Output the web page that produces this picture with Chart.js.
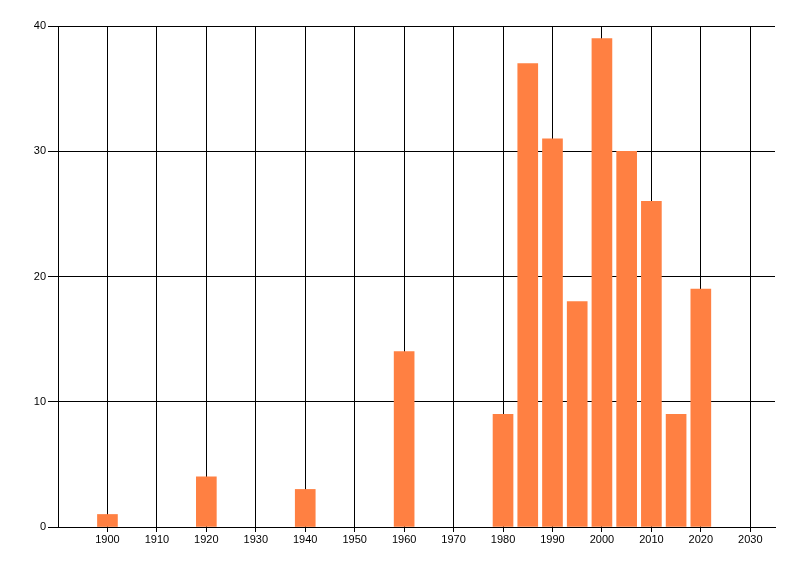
<!DOCTYPE html>
<html>
<head>
<meta charset="utf-8">
<script src="https://cdn.jsdelivr.net/npm/chart.js@4"></script>
<style>
  html, body { margin: 0; padding: 0; background: #fff; }
  #wrap { width: 800px; height: 576px; }
</style>
</head>
<body>
<div id="wrap"><canvas id="barChart" width="800" height="576"></canvas></div>
<script>
// values
const years = [1900, 1920, 1940, 1960, 1980, 1985, 1990, 1995, 2000, 2005, 2010, 2015, 2020];
const counts = [1, 4, 3, 14, 9, 37, 31, 18, 39, 30, 26, 9, 19];
const yearTicks = [1900, 1910, 1920, 1930, 1940, 1950, 1960, 1970, 1980, 1990, 2000, 2010, 2020, 2030];
const countTicks = [0, 10, 20, 30, 40];

const points = years.map((yr, i) => ({ x: yr, y: counts[i] }));

const tickFont = { family: '"Liberation Sans", "DejaVu Sans", sans-serif', size: 11 };

new Chart(document.getElementById('barChart'), {
  type: 'bar',
  data: {
    datasets: [{
      data: points,
      backgroundColor: 'rgb(255,128,66)',
      borderWidth: 0,
      barThickness: 20
    }]
  },
  options: {
    responsive: false,
    animation: false,
    layout: { padding: { top: 26, right: 25, left: 0, bottom: 0 } },
    plugins: { legend: { display: false }, tooltip: { enabled: false } },
    scales: {
      x: {
        type: 'linear',
        min: 1890,
        max: 2035,
        offset: false,
        afterBuildTicks: function (scale) {
          scale.ticks = yearTicks.map(v => ({ value: v }));
        },
        afterFit: function (scale) { scale.height = 49; },
        ticks: { color: '#000', font: tickFont, padding: 1, maxRotation: 0, autoSkip: false,
                 callback: v => String(v) },
        grid: { color: '#000', lineWidth: 1, tickLength: 5, offset: false },
        border: { color: '#000', width: 1 }
      },
      y: {
        min: 0,
        max: 40,
        afterBuildTicks: function (scale) {
          scale.ticks = countTicks.map(v => ({ value: v }));
        },
        afterFit: function (scale) { scale.width = 58; },
        ticks: { color: '#000', font: tickFont, padding: 2 },
        grid: { color: '#000', lineWidth: 1, tickLength: 10 },
        border: { color: '#000', width: 1 }
      }
    }
  }
});
</script>
</body>
</html>
